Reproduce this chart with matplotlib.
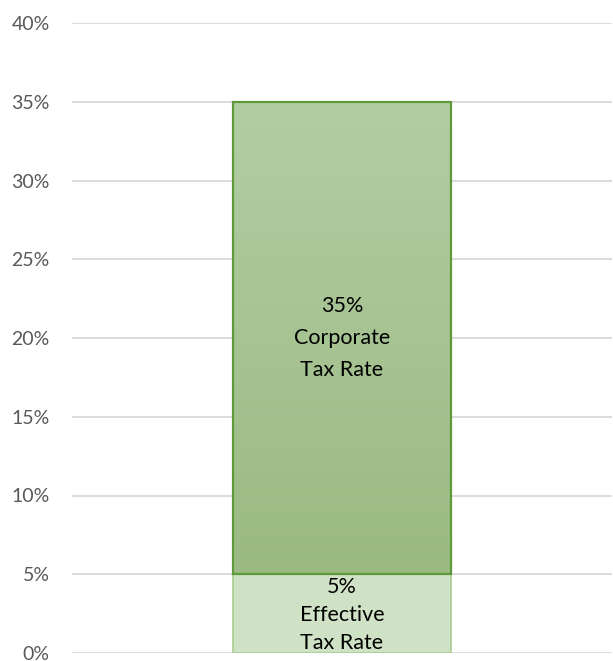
import numpy as np
import matplotlib
matplotlib.use("Agg")
import matplotlib.pyplot as plt
from matplotlib.colors import LinearSegmentedColormap
from matplotlib.ticker import PercentFormatter

# values
rates = [0.35, 0.05]
labels = ["35%\nCorporate\nTax Rate", "5%\nEffective\nTax Rate"]
y_ticks = [0, 0.05, 0.10, 0.15, 0.20, 0.25, 0.30, 0.35, 0.40]

corp, eff = rates

fig = plt.figure(figsize=(6.13, 6.61), dpi=100)
ax = fig.add_axes([72 / 613, 8 / 661, 540 / 613, 630 / 661])

bar_w = 0.404
x0, x1 = -bar_w / 2, bar_w / 2

# gradient fill for the corporate part (sits on top of the effective rate)
cmap = LinearSegmentedColormap.from_list("g", ["#9aba82", "#b3cda3"])
grad = np.linspace(0, 1, 256).reshape(-1, 1)
ax.imshow(grad, extent=[x0, x1, eff, corp], origin="lower", aspect="auto",
          cmap=cmap, zorder=2, interpolation="bilinear")
ax.bar(0, corp - eff, bottom=eff, width=bar_w, facecolor="none",
       edgecolor="#5e9a3a", linewidth=1.6, zorder=3)

# effective rate part
ax.bar(0, eff, width=bar_w, color="#d0e2c5", edgecolor="#a8cc92",
       linewidth=1.2, zorder=2)

ax.text(0, (corp + eff) / 2, labels[0], ha="center", va="center",
        fontsize=15.5, family="Lato", color="#000000", linespacing=1.75, zorder=4)
ax.text(0, eff / 2 - 0.001, labels[1], ha="center", va="center",
        fontsize=15.5, family="Lato", color="#000000", linespacing=1.5, zorder=4)

ax.set_xlim(-0.5, 0.5)
ax.set_ylim(0, 0.40)
ax.set_yticks(y_ticks)
ax.yaxis.set_major_formatter(PercentFormatter(1.0, decimals=0))
ax.set_xticks([])
ax.grid(axis="y", color="#d9d9d9", linewidth=1.3, zorder=0)
ax.set_axisbelow(True)
for s in ax.spines.values():
    s.set_visible(False)
ax.tick_params(axis="y", length=0, pad=16, labelsize=14, labelcolor="#595959")
for t in ax.get_yticklabels():
    t.set_family("Lato")

fig.savefig("out.png", dpi=100)
